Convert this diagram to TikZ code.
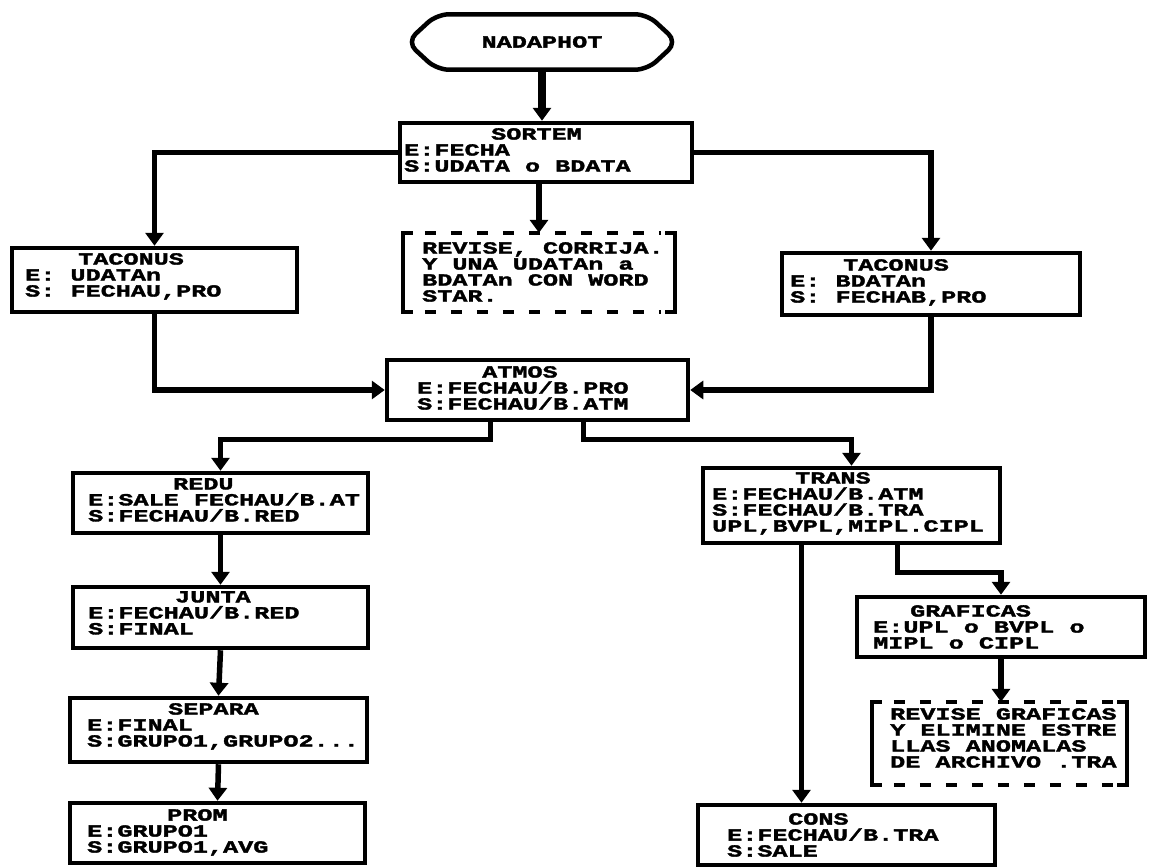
\documentclass[tikz,border=0pt]{standalone}
\usepackage{fontspec}
\newfontfamily\dotfont[FakeStretch=1.48,BoldFeatures={FakeBold=2}]{Liberation Mono}
\usetikzlibrary{arrows.meta}
\begin{document}
\begin{tikzpicture}[x=1pt,y=-1pt,
  box/.style={draw, line width=4.5pt, inner sep=0pt},
  dbox/.style={inner sep=0pt},
  txt/.style={font=\dotfont\bfseries\fontsize{17}{16}\selectfont, align=left, anchor=north west, inner sep=0pt},
  conn/.style={line width=5.5pt, -{Triangle[length=13pt,width=18pt]}},
  brk/.style={line width=4.5pt},
  dsh/.style={line width=4.5pt, dash pattern=on 11pt off 15pt}]
\fill[white] (0,0) rectangle (1149,867);
\useasboundingbox (0,0) rectangle (1149,867);

% start terminator
\node[inner sep=0pt, minimum width=270pt, minimum height=55pt, font=\dotfont\bfseries\fontsize{17}{16}\selectfont] (start) at (542,42) {NADAPHOT};
\draw[line width=4.5pt, rounded corners=12pt] (start.west) -- ([xshift=30pt]start.north west) -- ([xshift=-30pt]start.north east) -- (start.east) -- ([xshift=-30pt]start.south east) -- ([xshift=30pt]start.south west) -- cycle;

% boxes
\node[box, minimum width=292pt, minimum height=59pt] (sortem) at (546,152.5) {};
\node[box, minimum width=285pt, minimum height=64pt] (tacL) at (154.5,280) {};
\node[dbox, minimum width=272pt, minimum height=79pt] (rev1) at (539,272.5) {};
\node[box, minimum width=298pt, minimum height=62pt] (tacR) at (931,284) {};
\node[box, minimum width=301pt, minimum height=60pt] (atmos) at (537.5,390) {};
\node[box, minimum width=295pt, minimum height=60pt] (redu) at (220.5,503) {};
\node[box, minimum width=295pt, minimum height=61pt] (junta) at (220.5,617.5) {};
\node[box, minimum width=297pt, minimum height=64pt] (separa) at (218.5,730) {};
\node[box, minimum width=295pt, minimum height=60pt] (prom) at (217.5,833) {};
\node[box, minimum width=297pt, minimum height=75pt] (trans) at (851.5,505.5) {};
\node[box, minimum width=288pt, minimum height=60pt] (graf) at (1001,627) {};
\node[dbox, minimum width=255pt, minimum height=83pt] (rev2) at (999.5,743.5) {};
\node[box, minimum width=297pt, minimum height=60pt] (cons) at (846.5,835) {};

% texts
\node[txt] (tsortem) at (404,128) {\hspace*{87pt}SORTEM\\E:FECHA\\S:UDATA o BDATA};
\node[txt] (ttacL) at (25,253) {\hspace*{53pt}TACONUS\\E: UDATAn\\S: FECHAU,PRO};
\node[txt] (trev1) at (422,242) {REVISE, CORRIJA.\\Y UNA UDATAn a\\BDATAn CON WORD\\STAR.};
\node[txt] (ttacR) at (790,259) {\hspace*{53pt}TACONUS\\E: BDATAn\\S: FECHAB,PRO};
\node[txt] (tatmos) at (417,366) {\hspace*{65pt}ATMOS\\E:FECHAU/B.PRO\\S:FECHAU/B.ATM};
\node[txt] (tredu) at (88,478) {\hspace*{85pt}REDU\\E:SALE FECHAU/B.AT\\S:FECHAU/B.RED};
\node[txt] (tjunta) at (88,591) {\hspace*{87pt}JUNTA\\E:FECHAU/B.RED\\S:FINAL};
\node[txt] (tsepara) at (87,703) {\hspace*{81pt}SEPARA\\E:FINAL\\S:GRUPO1,GRUPO2...};
\node[txt] (tprom) at (87,809) {\hspace*{80pt}PROM\\E:GRUPO1\\S:GRUPO1,AVG};
\node[txt] (ttrans) at (712,472) {\hspace*{83pt}TRANS\\E:FECHAU/B.ATM\\S:FECHAU/B.TRA\\UPL,BVPL,MIPL.CIPL};
\node[txt] (tgraf) at (873,605) {\hspace*{37pt}GRAFICAS\\E:UPL o BVPL o\\MIPL o CIPL};
\node[txt] (trev2) at (890,708) {REVISE GRAFICAS\\Y ELIMINE ESTRE\\LLAS ANOMALAS\\DE ARCHIVO .TRA};
\node[txt] (tcons) at (727,813) {\hspace*{61pt}CONS\\E:FECHAU/B.TRA\\S:SALE};

% dashed bracket boxes
\foreach \b in {rev1,rev2}{
  \draw[brk] ([xshift=10pt]\b.north west) -- (\b.north west) -- (\b.south west) -- ([xshift=10pt]\b.south west);
  \draw[brk] ([xshift=-10pt]\b.north east) -- (\b.north east) -- (\b.south east) -- ([xshift=-10pt]\b.south east);
  \draw[dsh] ([xshift=22pt]\b.north west) -- ([xshift=-14pt]\b.north east);
  \draw[dsh] ([xshift=22pt]\b.south west) -- ([xshift=-14pt]\b.south east);
}

% connectors
\draw[conn, line width=8pt] (start.south) -- (start.south |- sortem.north);
\draw[conn] (sortem.south -| rev1.north) -- (rev1.north);
\draw[conn] (sortem.west) -| (tacL.north);
\draw[conn] (sortem.east) -| (tacR.north);
\draw[conn] (tacL.south) |- (atmos.west);
\draw[conn] (tacR.south) |- (atmos.east);
\coordinate (aL) at ([xshift=-47pt]atmos.south);
\coordinate (aR) at ([xshift=46pt]atmos.south);
\draw[conn] (aL) -- ++(0,17) -| (redu.north);
\draw[conn] (aR) -- ++(0,17) -| (trans.north);
\draw[conn] (redu.south) -- (junta.north);
\draw[conn] (junta.south) -- (separa.north);
\draw[conn] (separa.south) -- (prom.north);
\coordinate (tL) at ([xshift=-50pt]trans.south);
\coordinate (tR) at ([xshift=46pt]trans.south);
\draw[conn] (tL) -- (tL |- cons.north);
\draw[conn] (tR) -- ++(0,27) -| (graf.north);
\draw[conn] (graf.south) -- (graf.south |- rev2.north);
\end{tikzpicture}
\end{document}
